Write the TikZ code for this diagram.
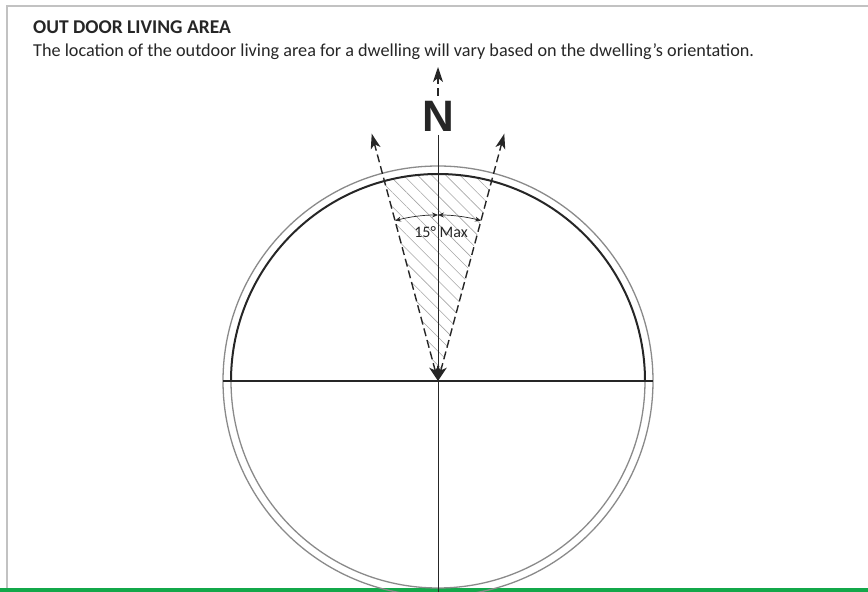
\documentclass[tikz,border=0pt]{standalone}
\usepackage{fontspec}
\setmainfont{Carlito}
\newfontfamily\compassfont{Liberation Sans}
\usetikzlibrary{arrows.meta,patterns.meta}
\definecolor{ink}{HTML}{262626}
\definecolor{rim}{HTML}{8A8A8A}
\definecolor{hatchgray}{HTML}{A6A6A6}
\definecolor{framegray}{HTML}{C2C2C2}
\definecolor{band}{HTML}{13A84A}

\begin{document}
\begin{tikzpicture}[x=1pt,y=1pt, every node/.style={inner sep=0pt,text=ink}, ray/.style={draw=ink,line width=1.4pt,dash pattern=on 8pt off 4pt,{Stealth[length=15pt,width=10pt,inset=4pt]}-{Stealth[length=15pt,width=10pt,inset=4pt]}}, northray/.style={draw=ink,line width=1.4pt,dash pattern=on 8pt off 4pt,-{Stealth[length=15pt,width=10pt,inset=4pt]}}, dim/.style={draw=ink,line width=.7pt,{Stealth[length=6pt,width=5pt]}-{Stealth[length=6pt,width=5pt]}}]
\useasboundingbox (0,0) rectangle (868,592);
\clip (0,0) rectangle (868,592);
% page frame and band
\draw[framegray,line width=1.5pt] (7,0) -- (7,586) -- (868,586);
\fill[band] (0,0) rectangle (868,4);
% texts
\node[anchor=base west,font=\bfseries\fontsize{19.5}{19.5}\selectfont] (title) at (33,558) {OUT DOOR LIVING AREA};
\node[anchor=base west,font=\fontsize{18.2}{18.2}\selectfont] (intro) at (33,535) {The location of the outdoor living area for a dwelling will vary based on the dwelling’s orientation.};
% compass
\coordinate (O) at (438,211);
\coordinate (W) at ([shift={(180:215)}]O);
\coordinate (E) at ([shift={(0:215)}]O);
\coordinate (S) at (438,0);
\coordinate (L) at ([shift={(105:256)}]O);
\coordinate (R) at ([shift={(75:256)}]O);
\coordinate (Ntip) at (438,525);
\fill[pattern={Lines[angle=-45,distance=10pt,line width=.6pt]},pattern color=hatchgray] (O) -- ([shift={(75:207)}]O) arc[start angle=75,end angle=105,radius=207] -- cycle;
\draw[rim,line width=1.3pt] (O) circle[radius=215];
\draw[rim,line width=1.3pt] ([shift={(180:207)}]O) arc[start angle=180,end angle=360,radius=207];
\draw[ink,line width=2pt] ([shift={(0:207)}]O) arc[start angle=0,end angle=180,radius=207];
\draw[ink,line width=1.5pt] (W) -- (E);
\node[anchor=base,font=\compassfont\bfseries\fontsize{44}{44}\selectfont] (N) at (438,460) {N};
\draw[ink,line width=.9pt] ([yshift=-3pt]N.base) -- (S);
\draw[northray] ([yshift=6pt]N.north) -- (Ntip);
\draw[ray] (O) -- (L);
\draw[ray] (O) -- (R);
\draw[dim] ([shift={(90:166)}]O) arc[start angle=90,end angle=105,radius=166];
\draw[dim] ([shift={(90:166)}]O) arc[start angle=90,end angle=75,radius=166];
\node[font=\fontsize{16}{16}\selectfont] (maxlabel) at (441,360) {15° Max};
\end{tikzpicture}
\end{document}
